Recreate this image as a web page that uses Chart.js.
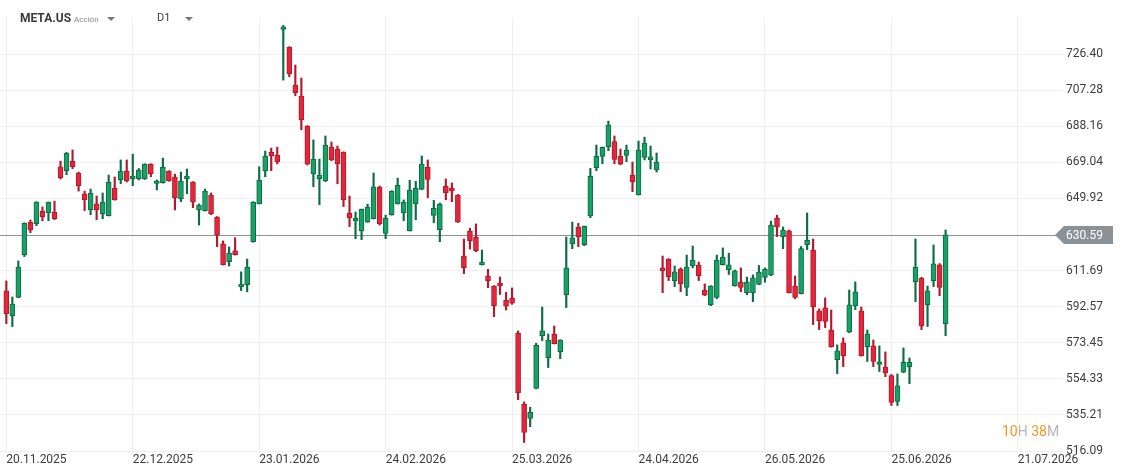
<!DOCTYPE html>
<html>
<head>
<meta charset="utf-8">
<script src="https://cdn.jsdelivr.net/npm/chart.js@4.4.1/dist/chart.umd.min.js"></script>
<style>
  body { margin: 0; background: #fff; font-family: Roboto, "Noto Sans", sans-serif; }
  #wrap { position: relative; width: 1127px; height: 476px; }
  .hdr { position: absolute; top: 11px; left: 20px; font-size: 12px; color: #3a3a3a; white-space: nowrap; }
  .hdr b { font-weight: 700; }
  .hdr .kind { font-size: 8px; color: #888; margin-left: 3px; }
  .tri { display: inline-block; width: 0; height: 0; border-left: 4px solid transparent; border-right: 4px solid transparent; border-top: 4px solid #777; vertical-align: middle; }
  .timer { position: absolute; left: 1002px; top: 423px; font-size: 14px; color: #b5b5b5; }
  .timer .o { color: #f7941d; }
</style>
</head>
<body>
<div id="wrap">
  <canvas id="theViz" width="1127" height="476"></canvas>
  <div class="hdr"><b>META.US</b><span class="kind">Acción</span><span class="tri" style="margin-left:8px"></span><span style="position:absolute;left:137px;font-size:11px">D1</span><span class="tri" style="position:absolute;left:165px;top:6px"></span></div>
  <div class="timer"><span class="o">10</span>H <span class="o">38</span>M</div>
</div>
<script>
// daily candles META.US, 20.11.2025 -> 09.07.2026
const opens = [600.9,587.8,597.5,620.1,637.2,636.5,643.2,642.4,642.7,666.6,664.6,669.7,663.4,652.3,644.0,647.0,641.8,640.8,655.3,659.8,
  664.4,660.4,660.2,660.4,668.1,657.9,658.3,664.4,661.2,649.8,660.4,658.6,643.8,643.4,651.7,640.1,625.8,616.4,622.1,603.2,
  604.2,627.0,647.1,664.6,674.3,672.9,739.5,730.1,710.0,704.2,688.3,663.0,660.4,659.2,677.1,676.1,674.5,642.2,638.1,632.8,
  637.3,639.2,655.9,631.4,641.3,647.1,642.4,632.8,647.1,654.7,666.4,640.9,633.3,656.3,655.4,651.7,619.4,632.6,629.3,614.8,
  608.8,603.5,605.1,595.9,597.0,578.5,541.0,533.4,549.2,577.2,565.6,577.9,568.7,598.9,625.9,634.6,625.4,640.6,666.2,672.2,
  677.3,680.1,672.2,672.7,662.3,651.9,671.7,670.4,665.0,613.1,617.8,606.4,612.5,602.8,614.1,614.6,601.4,593.6,597.4,614.8,
  612.2,603.7,605.6,600.0,600.0,604.4,608.1,609.2,639.4,629.7,632.7,603.5,599.5,625.4,622.6,590.3,591.9,580.2,564.5,573.4,
  579.0,593.1,590.3,571.4,571.8,561.9,560.6,556.1,542.3,557.8,560.8,605.8,607.6,593.6,606.4,614.7,583.6];
const highs = [606.2,597.7,616.8,637.0,638.5,648.2,645.4,648.0,648.5,669.7,674.3,675.6,663.9,653.8,654.9,651.2,652.8,662.3,661.3,670.3,
  670.3,673.4,665.8,668.3,668.3,659.7,671.3,664.6,662.8,663.9,665.5,658.8,647.0,654.9,652.8,640.3,627.4,624.2,629.1,611.0,
  617.8,648.2,666.7,675.0,676.6,677.1,741.6,730.3,720.6,713.7,688.5,680.9,670.8,683.0,679.8,677.7,674.6,651.2,642.7,644.3,
  646.9,663.4,656.5,641.1,654.0,660.7,649.1,659.5,659.0,672.4,670.3,648.9,647.5,660.2,658.1,652.0,628.4,634.1,636.4,622.6,
  612.4,603.7,608.3,600.2,602.5,579.7,542.1,539.3,573.2,592.4,578.1,582.3,575.1,629.5,637.4,636.7,635.3,665.8,678.2,677.2,
  690.9,683.0,676.1,678.2,669.2,680.3,682.4,677.7,674.0,619.4,618.0,614.1,613.1,619.9,624.7,616.2,604.6,603.7,619.9,623.7,
  620.9,612.0,613.1,608.3,609.4,614.4,613.1,637.9,641.0,634.8,633.2,608.8,624.4,642.2,628.4,591.4,597.2,590.8,572.3,576.0,
  601.4,605.7,592.4,580.2,574.9,571.8,568.6,556.6,556.9,570.7,565.4,628.4,608.1,603.5,625.3,615.4,633.2];
const lows = [583.6,582.0,597.3,619.1,631.8,635.5,638.0,638.1,638.7,660.2,662.5,665.7,653.8,643.4,641.3,638.7,639.2,640.6,649.0,657.7,
  658.6,656.7,659.7,660.0,661.4,654.4,658.0,659.0,643.8,648.2,652.4,645.0,635.8,643.2,641.3,624.4,614.6,614.1,619.9,601.1,
  600.4,626.7,647.0,661.4,664.6,668.2,712.6,714.4,704.3,686.3,667.6,656.1,646.6,658.8,669.9,657.7,645.6,635.0,628.6,628.1,
  637.2,639.0,635.8,628.6,641.0,646.9,638.1,632.6,638.6,654.5,650.3,637.1,627.0,649.2,648.2,637.2,610.1,623.1,621.7,614.6,
  602.6,587.3,599.0,590.8,593.8,543.3,520.6,529.0,549.0,574.6,560.3,572.8,565.0,592.1,623.3,624.4,624.9,639.7,664.6,668.3,
  675.2,668.3,667.8,669.4,653.5,651.7,670.3,665.5,663.9,600.0,606.4,603.2,600.5,598.4,613.1,606.4,598.4,593.1,596.8,614.6,
  609.6,603.4,600.5,598.9,595.2,604.2,605.5,609.0,629.7,623.3,599.8,596.8,599.3,622.8,583.1,580.4,581.5,571.1,557.1,560.8,
  578.8,591.0,566.4,563.5,560.8,558.2,555.5,540.2,540.2,557.6,551.8,595.2,580.4,582.0,603.2,598.4,577.2];
const closes = [588.9,594.0,613.6,636.7,633.2,648.0,640.2,647.8,639.2,660.9,673.8,666.7,656.7,649.3,652.8,644.0,648.0,658.4,649.1,664.4,
  659.3,661.8,665.0,668.1,663.0,659.1,666.5,659.3,650.3,659.1,661.8,648.0,646.4,653.8,641.8,630.5,614.8,621.0,620.1,604.6,
  613.6,647.9,659.7,672.4,672.6,669.4,740.9,716.0,705.9,691.6,668.1,670.6,662.3,678.2,670.3,668.3,649.2,639.7,639.4,644.1,
  645.2,656.0,636.4,639.4,653.7,656.8,648.0,654.2,655.3,668.1,660.0,644.7,646.9,653.0,654.0,637.4,613.2,627.5,622.2,616.2,
  606.4,593.1,603.7,592.8,594.4,547.0,526.0,536.6,572.1,579.7,574.9,573.0,574.9,613.1,629.1,629.7,635.1,661.6,672.2,677.0,
  688.8,670.6,668.1,675.6,658.8,675.6,679.3,671.9,669.2,611.7,608.5,611.0,604.8,613.6,617.3,609.0,598.6,603.5,617.3,618.9,
  614.8,611.5,602.7,605.6,607.8,610.9,612.5,635.8,634.8,633.2,600.0,597.4,623.3,627.7,592.6,585.2,584.7,571.4,569.1,566.6,
  593.5,600.4,566.6,578.1,563.5,563.3,557.6,541.8,550.6,563.1,563.1,613.4,582.5,600.9,615.2,602.7,630.59];

const tickIdx = [0, 21, 42, 63, 84, 105, 126, 147, 168];
const tickLabels = ['20.11.2025', '22.12.2025', '23.01.2026', '24.02.2026', '25.03.2026', '24.04.2026', '26.05.2026', '25.06.2026', '21.07.2026'];
const yTicks = [516.09, 535.21, 554.33, 573.45, 592.57, 611.69, 649.92, 669.04, 688.16, 707.28, 726.40];
const lastPrice = 630.59;

const UP = '#17a167', UP_EDGE = '#0c6c44';
const DOWN = '#e3263b', DOWN_EDGE = '#b3182b';
const isUp = opens.map((o, i) => closes[i] >= o);

const priceLine = {
    id: 'priceLine',
    beforeDatasetsDraw(chart) {
        const {ctx, chartArea} = chart;
        const y = Math.round(chart.scales.y.getPixelForValue(lastPrice)) + 0.5;
        ctx.save();
        ctx.strokeStyle = '#8c9399';
        ctx.lineWidth = 1;
        ctx.beginPath();
        ctx.moveTo(chartArea.left, y);
        ctx.lineTo(chartArea.right, y);
        ctx.stroke();
        ctx.restore();
    },
    afterDraw(chart) {
        const {ctx, chartArea} = chart;
        const y = Math.round(chart.scales.y.getPixelForValue(lastPrice));
        const x0 = chartArea.right - 8;
        ctx.save();
        ctx.fillStyle = '#8b9297';
        ctx.beginPath();
        ctx.moveTo(x0, y);
        ctx.lineTo(x0 + 9, y - 9);
        ctx.lineTo(1113, y - 9);
        ctx.lineTo(1113, y + 9);
        ctx.lineTo(x0 + 9, y + 9);
        ctx.closePath();
        ctx.fill();
        ctx.fillStyle = '#ffffff';
        ctx.font = '12px Roboto';
        ctx.textBaseline = 'middle';
        ctx.fillText(lastPrice.toFixed(2), chartArea.right + 3, y + 1);
        ctx.restore();
    }
};

const ctx = document.getElementById('theViz').getContext('2d');
window.theViz = new Chart(ctx, {
    type: 'bar',
    data: {
        datasets: [{
            label: 'body',
            data: opens.map((o, i) => ({x: i, y: [o, closes[i]]})),
            backgroundColor: isUp.map(u => u ? UP : DOWN),
            borderColor: isUp.map(u => u ? UP_EDGE : DOWN_EDGE),
            borderWidth: 1,
            borderSkipped: false,
            barThickness: 5,
            grouped: false,
            order: 0
        }, {
            label: 'wick',
            data: lows.map((l, i) => ({x: i, y: [l, highs[i]]})),
            backgroundColor: isUp.map(u => u ? UP_EDGE : DOWN_EDGE),
            borderWidth: 0,
            barThickness: 1.5,
            grouped: false,
            order: 1
        }]
    },
    options: {
        responsive: false,
        animation: false,
        layout: { padding: { top: 18, left: 0, right: 0, bottom: 0 } },
        plugins: { legend: { display: false }, tooltip: { enabled: false } },
        scales: {
            x: {
                type: 'linear',
                offset: false,
                min: -1.05,
                max: 175.5,
                afterBuildTicks: s => { s.ticks = tickIdx.map(v => ({value: v})); },
                afterFit: s => { s.height = 25; },
                ticks: {
                    autoSkip: false,
                    maxRotation: 0,
                    align: 'start',
                    padding: 2,
                    color: '#3d3d3d',
                    font: { family: 'Roboto', size: 12 },
                    callback: v => tickLabels[tickIdx.indexOf(v)]
                },
                grid: { color: '#efefef', drawTicks: false, offset: false },
                border: { display: false }
            },
            y: {
                position: 'right',
                min: 516.09,
                max: 745.52,
                afterBuildTicks: s => { s.ticks = yTicks.map(v => ({value: v})); },
                afterFit: s => { s.width = 64; },
                ticks: {
                    padding: 3,
                    color: '#3d3d3d',
                    font: { family: 'Roboto', size: 12 },
                    callback: v => v.toFixed(2)
                },
                grid: { color: '#efefef', drawTicks: false },
                border: { display: false }
            }
        }
    },
    plugins: [priceLine]
});
</script>
</body>
</html>
